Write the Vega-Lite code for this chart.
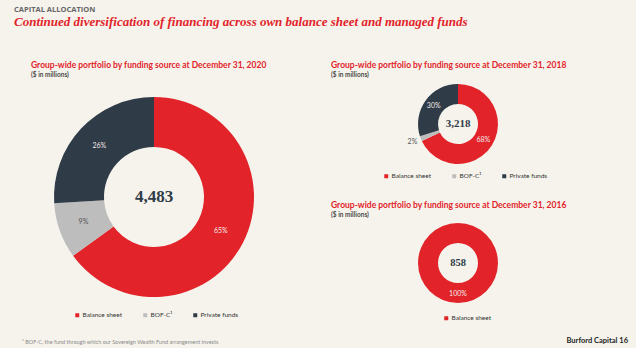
{
  "$schema": "https://vega.github.io/schema/vega-lite/v6.json",
  "background": "#f5f3ec",
  "padding": {"left": 14, "top": 5, "right": 8, "bottom": 2},
  "title": {
    "text": "CAPITAL ALLOCATION",
    "subtitle": "Continued diversification of financing across own balance sheet and managed funds",
    "anchor": "start",
    "font": "Open Sans",
    "fontSize": 7.5,
    "fontWeight": "bold",
    "color": "#666666",
    "subtitleFont": "Liberation Serif",
    "subtitleFontSize": 13,
    "subtitleFontStyle": "italic",
    "subtitleFontWeight": "bold",
    "subtitleColor": "#e2242a",
    "subtitlePadding": 3,
    "offset": 32
  },
  "datasets": {
    "d2020": [
      {"source": "Balance sheet", "share": 0.65, "idx": 1},
      {"source": "BOF-C¹", "share": 0.09, "idx": 2},
      {"source": "Private funds", "share": 0.26, "idx": 3}
    ],
    "d2018": [
      {"source": "Balance sheet", "share": 0.68, "idx": 1},
      {"source": "BOF-C¹", "share": 0.02, "idx": 2},
      {"source": "Private funds", "share": 0.30, "idx": 3}
    ],
    "d2016": [
      {"source": "Balance sheet", "share": 1.0, "idx": 1}
    ]
  },
  "config": {
    "view": {"stroke": null},
    "title": {
      "font": "Lato",
      "fontSize": 8.5,
      "fontWeight": "bold",
      "color": "#e2242a",
      "subtitleFont": "Lato",
      "subtitleFontSize": 6.5,
      "subtitleFontWeight": "bold",
      "subtitleColor": "#4a4a4a",
      "subtitlePadding": 2
    },
    "legend": {
      "orient": "none",
      "direction": "horizontal",
      "title": null,
      "symbolType": "square",
      "symbolSize": 16,
      "symbolStrokeWidth": 0,
      "labelFont": "Lato",
      "labelFontSize": 6.5,
      "labelColor": "#333333",
      "labelOffset": 2,
      "columnPadding": 19,
      "gridAlign": "none"
    },
    "text": {"font": "Lato", "fontSize": 7}
  },
  "spacing": 30,
  "hconcat": [
    {
      "title": {
        "text": "¹ BOF-C, the fund through which our Sovereign Wealth Fund arrangement invests",
        "orient": "bottom",
        "anchor": "start",
        "font": "Lato",
        "fontSize": 5.5,
        "fontWeight": "normal",
        "color": "#8a8a8a",
        "dx": 8,
        "offset": 21
      },
      "vconcat": [
        {
          "width": 280,
          "height": 234,
          "title": {
            "text": "Group-wide portfolio by funding source at December 31, 2020",
            "subtitle": "($ in millions)",
            "anchor": "start",
            "dx": 17,
            "offset": 2
          },
          "layer": [
            {
              "data": {"name": "d2020"},
              "mark": {"type": "arc", "innerRadius": 50, "outerRadius": 100},
              "encoding": {
                "theta": {"field": "share", "type": "quantitative", "stack": true},
                "order": {"field": "idx", "type": "quantitative"},
                "color": {
                  "field": "source",
                  "type": "nominal",
                  "scale": {"domain": ["Balance sheet", "BOF-C¹", "Private funds"], "range": ["#e2242a", "#bdbdbd", "#2f3b47"]},
                  "legend": {"legendX": 60, "legendY": 232}
                }
              }
            },
            {
              "data": {"name": "d2020"},
              "mark": {"type": "text", "radius": 75},
              "encoding": {
                "theta": {"field": "share", "type": "quantitative", "stack": true},
                "order": {"field": "idx", "type": "quantitative"},
                "text": {"field": "share", "type": "quantitative", "format": ".0%"},
                "color": {"condition": {"test": "datum.source === 'BOF-C¹'", "value": "#555555"}, "value": "#f4e9e9"}
              }
            },
            {
              "data": {"values": [{"total": 4483}]},
              "mark": {"type": "text", "font": "Liberation Serif", "fontSize": 17, "fontWeight": "bold", "color": "#2f3b47"},
              "encoding": {"text": {"field": "total", "type": "quantitative", "format": ","}}
            }
          ]
        }
      ]
    },
    {
      "title": {
        "text": "Burford Capital     16",
        "orient": "bottom",
        "anchor": "end",
        "font": "Lato",
        "fontSize": 7.5,
        "fontWeight": "bold",
        "color": "#222222",
        "dx": 36,
        "offset": 15
      },
      "spacing": 21,
      "vconcat": [
        {
          "width": 268,
          "height": 88,
          "title": {
            "text": "Group-wide portfolio by funding source at December 31, 2018",
            "subtitle": "($ in millions)",
            "anchor": "start",
            "dx": 7,
            "offset": 2
          },
          "layer": [
            {
              "data": {"name": "d2018"},
              "mark": {"type": "arc", "innerRadius": 20, "outerRadius": 40},
              "encoding": {
                "theta": {"field": "share", "type": "quantitative", "stack": true},
                "order": {"field": "idx", "type": "quantitative"},
                "color": {
                  "field": "source",
                  "type": "nominal",
                  "scale": {"domain": ["Balance sheet", "BOF-C¹", "Private funds"], "range": ["#e2242a", "#bdbdbd", "#2f3b47"]},
                  "legend": {"legendX": 59, "legendY": 93}
                }
              }
            },
            {
              "data": {"name": "d2018"},
              "mark": {"type": "text", "radius": 30},
              "encoding": {
                "theta": {"field": "share", "type": "quantitative", "stack": true},
                "order": {"field": "idx", "type": "quantitative"},
                "text": {"field": "share", "type": "quantitative", "format": ".0%"},
                "color": {"value": "#f4e9e9"},
                "opacity": {"condition": {"test": "datum.source === 'BOF-C¹'", "value": 0}, "value": 1}
              }
            },
            {
              "data": {"name": "d2018"},
              "mark": {"type": "text", "radius": 49},
              "encoding": {
                "theta": {"field": "share", "type": "quantitative", "stack": true},
                "order": {"field": "idx", "type": "quantitative"},
                "text": {"field": "share", "type": "quantitative", "format": ".0%"},
                "color": {"value": "#555555"},
                "opacity": {"condition": {"test": "datum.source === 'BOF-C¹'", "value": 1}, "value": 0}
              }
            },
            {
              "data": {"values": [{"total": 3218}]},
              "mark": {"type": "text", "font": "Liberation Serif", "fontSize": 11, "fontWeight": "bold", "color": "#2f3b47"},
              "encoding": {"text": {"field": "total", "type": "quantitative", "format": ","}}
            }
          ]
        },
        {
          "width": 268,
          "height": 82,
          "title": {
            "text": "Group-wide portfolio by funding source at December 31, 2016",
            "subtitle": "($ in millions)",
            "anchor": "start",
            "dx": 7,
            "offset": 4
          },
          "layer": [
            {
              "data": {"name": "d2016"},
              "mark": {"type": "arc", "innerRadius": 20, "outerRadius": 40},
              "encoding": {
                "theta": {"field": "share", "type": "quantitative", "stack": true},
                "order": {"field": "idx", "type": "quantitative"},
                "color": {
                  "field": "source",
                  "type": "nominal",
                  "scale": {"domain": ["Balance sheet"], "range": ["#e2242a"]},
                  "legend": {"legendX": 119, "legendY": 93}
                }
              }
            },
            {
              "data": {"name": "d2016"},
              "mark": {"type": "text", "radius": 31},
              "encoding": {
                "theta": {"field": "share", "type": "quantitative", "stack": true},
                "order": {"field": "idx", "type": "quantitative"},
                "text": {"field": "share", "type": "quantitative", "format": ".0%"},
                "color": {"value": "#f4e9e9"}
              }
            },
            {
              "data": {"values": [{"total": 858}]},
              "mark": {"type": "text", "font": "Liberation Serif", "fontSize": 10.5, "fontWeight": "bold", "color": "#2f3b47"},
              "encoding": {"text": {"field": "total", "type": "quantitative", "format": ","}}
            }
          ]
        }
      ],
      "resolve": {"scale": {"color": "independent"}, "legend": {"color": "independent"}}
    }
  ],
  "resolve": {"scale": {"color": "independent"}, "legend": {"color": "independent"}}
}
